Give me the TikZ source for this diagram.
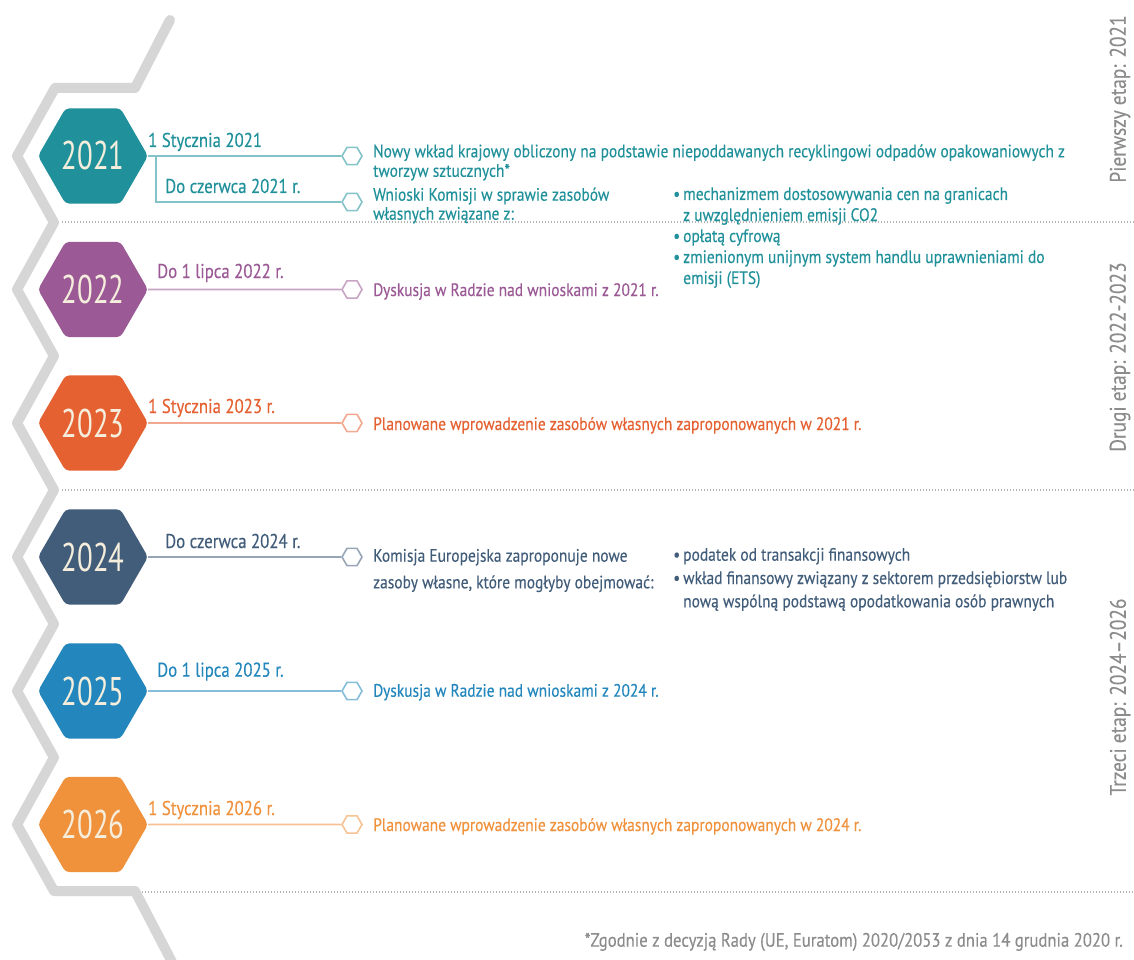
\documentclass[tikz,border=0pt]{standalone}
\usepackage{fontspec}
\setmainfont[FakeStretch=0.86,FakeBold=0.25]{PT Sans}
\newfontfamily\yearfont[FakeStretch=0.72]{PT Sans}
\newfontfamily\datefont[FakeStretch=0.84,FakeBold=0.25]{PT Sans}
\usetikzlibrary{shapes.geometric}
\definecolor{cA}{HTML}{20919A}
\definecolor{cB}{HTML}{9B5A96}
\definecolor{cC}{HTML}{E56132}
\definecolor{cD}{HTML}{425D7A}
\definecolor{cE}{HTML}{2387BD}
\definecolor{cF}{HTML}{F0913C}
\definecolor{cream}{HTML}{F5EEDD}
\definecolor{zigc}{HTML}{D6D6D6}
\definecolor{dotc}{HTML}{B5B5B5}
\definecolor{graytxt}{HTML}{8C8C8C}
\newcommand{\tlines}[2]{\vtop{\baselineskip=#1\relax\lineskiplimit=-30pt\lineskip=0pt #2}}
\newcommand{\bitem}[1]{\hbox{\makebox[10pt][l]{\textbullet}#1}}
\newcommand{\bcont}[1]{\hbox{\hspace{10pt}#1}}
\begin{document}
\begin{tikzpicture}[x=1pt,y=-1pt,
  yearhex/.style={regular polygon, regular polygon sides=6, minimum size=110pt, inner sep=0pt, rounded corners=4pt, text=cream, font=\yearfont\fontsize{40}{40}\selectfont},
  smallhex/.style={regular polygon, regular polygon sides=6, minimum size=20pt, inner sep=0pt, draw, line width=1.6pt, fill=white},
  conn/.style={line width=1.6pt},
  body/.style={inner sep=0pt, anchor=base west, font=\fontsize{18}{20}\selectfont},
  datelbl/.style={inner sep=0pt, anchor=base west, font=\datefont\fontsize{20}{20}\selectfont},
  sep/.style={dotc, line width=1.3pt, dash pattern=on 1.3pt off 1.7pt},
  stage/.style={rotate=90, inner sep=0pt, text=graytxt, font=\fontsize{22.5}{22.5}\selectfont}
]
\useasboundingbox (0,0) rectangle (1134,960);
\fill[white] (0,0) rectangle (1134,960);

% grey zigzag spine
\draw[zigc, line width=10pt, line cap=round, line join=round]
  (170,20) -- (135,88) -- (55,88) -- (17,156) -- (54,222.5) -- (17,289.5) -- (54,356) -- (17,423)
  -- (54,490) -- (17,557) -- (54,624) -- (17,691) -- (54,757.5) -- (17,824.5) -- (54,891)
  -- (135,891) -- (172,962);

% dotted separators
\draw[sep] (62,222) -- (1134,222);
\draw[sep] (62,490) -- (1134,490);
\draw[sep] (142,892) -- (1134,892);

% stage labels
\node[stage] (st1) at (1120,99) {Pierwszy etap: 2021};
\node[stage] (st2) at (1120,357) {Drugi etap: 2022-2023};
\node[stage] (st3) at (1120,697) {Trzeci etap: 2024–2026};

% ---- 2021
\node[yearhex, fill=cA] (y21) at (93,156) {2021};
\node[smallhex, draw=cA!55!white] (s21a) at (352,156) {};
\node[smallhex, draw=cA!55!white] (s21b) at (352,202) {};
\coordinate (b21) at (156,156);
\draw[conn, cA!55!white] (y21.east) -- (s21a.west);
\draw[conn, cA!55!white] (b21) |- (s21b.west);
\node[datelbl, text=cA] (d21a) at (148,147) {1 Stycznia 2021};
\node[datelbl, text=cA] (d21b) at (165,193) {Do czerwca 2021 r.};
\node[body, text=cA] (t21a) at (373,157.3) {\tlines{19.5pt}{\hbox{Nowy wkład krajowy obliczony na podstawie niepoddawanych recyklingowi odpadów opakowaniowych z}\hbox{tworzyw sztucznych*}}};
\node[body, text=cA] (t21b) at (373,200.7) {\tlines{19pt}{\hbox{Wnioski Komisji w sprawie zasobów}\hbox{własnych związane z:}}};
\node[body, text=cA] (l21) at (673,200) {\tlines{21pt}{\bitem{mechanizmem dostosowywania cen na granicach}\bcont{z uwzględnieniem emisji CO2}\bitem{opłatą cyfrową}\bitem{zmienionym unijnym system handlu uprawnieniami do}\bcont{emisji (ETS)}}};

% ---- 2022
\node[yearhex, fill=cB] (y22) at (93,289.5) {2022};
\node[smallhex, draw=cB!55!white] (s22) at (352,289.5) {};
\draw[conn, cB!55!white] (y22.east) -- (s22.west);
\node[datelbl, text=cB] (d22) at (157,278) {Do 1 lipca 2022 r.};
\node[body, text=cB] (t22) at (373,296) {Dyskusja w Radzie nad wnioskami z 2021 r.};

% ---- 2023
\node[yearhex, fill=cC] (y23) at (93,423) {2023};
\node[smallhex, draw=cC!55!white] (s23) at (352,423) {};
\draw[conn, cC!55!white] (y23.east) -- (s23.west);
\node[datelbl, text=cC] (d23) at (148,413) {1 Stycznia 2023 r.};
\node[body, text=cC] (t23) at (373,430) {Planowane wprowadzenie zasobów własnych zaproponowanych w 2021 r.};

% ---- 2024
\node[yearhex, fill=cD] (y24) at (93,557) {2024};
\node[smallhex, draw=cD!55!white] (s24) at (352,557) {};
\draw[conn, cD!55!white] (y24.east) -- (s24.west);
\node[datelbl, text=cD] (d24) at (165,548) {Do czerwca 2024 r.};
\node[body, text=cD] (t24) at (373,561.7) {\tlines{26.6pt}{\hbox{Komisja Europejska zaproponuje nowe}\hbox{zasoby własne, które mogłyby obejmować:}}};
\node[body, text=cD] (l24) at (673,560.7) {\tlines{23.3pt}{\bitem{podatek od transakcji finansowych}\bitem{wkład finansowy związany z sektorem przedsiębiorstw lub}\bcont{nową wspólną podstawą opodatkowania osób prawnych}}};

% ---- 2025
\node[yearhex, fill=cE] (y25) at (93,691) {2025};
\node[smallhex, draw=cE!55!white] (s25) at (352,691) {};
\draw[conn, cE!55!white] (y25.east) -- (s25.west);
\node[datelbl, text=cE] (d25) at (157,676.7) {Do 1 lipca 2025 r.};
\node[body, text=cE] (t25) at (373,696.7) {Dyskusja w Radzie nad wnioskami z 2024 r.};

% ---- 2026
\node[yearhex, fill=cF] (y26) at (93,824.5) {2026};
\node[smallhex, draw=cF!55!white] (s26) at (352,824.5) {};
\draw[conn, cF!55!white] (y26.east) -- (s26.west);
\node[datelbl, text=cF] (d26) at (148,815) {1 Stycznia 2026 r.};
\node[body, text=cF] (t26) at (373,831) {Planowane wprowadzenie zasobów własnych zaproponowanych w 2024 r.};

% footnote
\node[inner sep=0pt, anchor=base east, text=graytxt, font=\fontsize{19.4}{19.4}\selectfont] (fn) at (1123,946.7) {*Zgodnie z decyzją Rady (UE, Euratom) 2020/2053 z dnia 14 grudnia 2020 r.};
\end{tikzpicture}
\end{document}
